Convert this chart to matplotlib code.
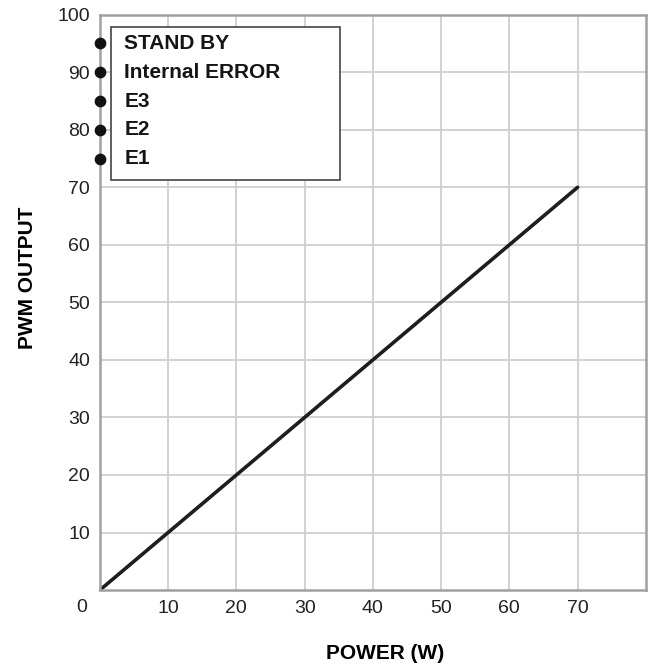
import matplotlib
matplotlib.use("Agg")
import matplotlib.pyplot as plt
from matplotlib.patches import Rectangle

plt.rcParams['font.family'] = ['Liberation Sans', 'DejaVu Sans']

# data
power = [0, 70]
pwm = [0, 70]
state_levels = [95, 90, 85, 80, 75]
state_labels = ['STAND BY', 'Internal ERROR', 'E3', 'E2', 'E1']
x_ticks = [10, 20, 30, 40, 50, 60, 70]
y_ticks = [10, 20, 30, 40, 50, 60, 70, 80, 90, 100]

fig = plt.figure(figsize=(6.57, 6.69), dpi=100)
ax = fig.add_axes([0.152, 0.118, 0.831, 0.860])

ax.set_xlim(0, 80)
ax.set_ylim(0, 100)
ax.set_xticks(x_ticks)
ax.set_yticks(y_ticks)
ax.tick_params(length=0, labelsize=14, colors='#222222', pad=7)
ax.grid(True, color='#cfcfcf', linewidth=1.3)
ax.set_axisbelow(True)
for s in ax.spines.values():
    s.set_color('#a0a0a0')
    s.set_linewidth(1.8)

ax.plot(power, pwm, color='#1e1e1e', linewidth=2.6, solid_capstyle='round')

# status dots sitting on the y axis
ax.scatter([0] * len(state_levels), state_levels, s=55, color='#111111',
           zorder=5, clip_on=False)
ax.add_patch(Rectangle((1.6, 71.3), 33.6, 26.6, fill=True, facecolor='white',
                       edgecolor='#444444', linewidth=1.2, zorder=3))
for lvl, lab in zip(state_levels, state_labels):
    ax.text(3.6, lvl, lab, fontsize=15, fontweight='bold', va='center',
            ha='left', color='#151515', zorder=4)

fig.text(82 / 657, 1 - 607 / 669, '0', fontsize=14, ha='center', va='center',
         color='#222222')

ax.set_xlabel('POWER (W)', fontsize=15, fontweight='bold')
ax.set_ylabel('PWM OUTPUT', fontsize=15, fontweight='bold')
ax.xaxis.set_label_coords(0.522, -0.094)
ax.yaxis.set_label_coords(-0.115, 0.543)

fig.savefig('out.png', dpi=100, facecolor='white')
